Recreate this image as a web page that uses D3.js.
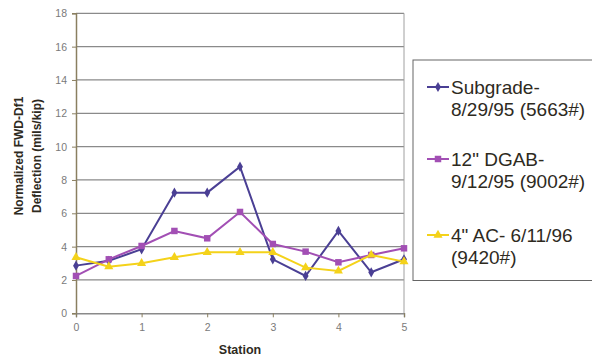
<!DOCTYPE html>
<html><head><meta charset="utf-8">
<script src="https://cdn.jsdelivr.net/npm/d3@7"></script>
<style>body{margin:0;background:#fff;}svg{display:block;font-family:Arial,"Liberation Sans",sans-serif;}</style>
</head><body><svg id="c" width="592" height="360"></svg>
<script>
const stations = [0,0.5,1,1.5,2,2.5,3,3.5,4,4.5,5];
const subgrade = [2.86,3.15,3.84,7.24,7.24,8.8,3.24,2.24,4.94,2.46,3.24];
const dgab = [2.24,3.24,4.04,4.94,4.5,6.08,4.16,3.7,3.06,3.5,3.9];
const ac = [3.36,2.8,3.0,3.36,3.66,3.66,3.66,2.74,2.54,3.5,3.1];
const seriesNames = [["Subgrade-","8/29/95 (5663#)"],["12\" DGAB-","9/12/95 (9002#)"],["4\" AC- 6/11/96","(9420#)"]];
const colors = ["#4a3f94","#a24fb4","#f4d21a"];
const yTicks = [0,2,4,6,8,10,12,14,16,18];
const xTicks = [0,1,2,3,4,5];

const svg = d3.select("#c");
const x = d3.scaleLinear().domain([0,5]).range([76,404]);
const y = d3.scaleLinear().domain([0,18]).range([313.3,13.3]);

svg.append("g").selectAll("line").data(yTicks.filter(d=>d>0)).join("line")
  .attr("x1",x(0)).attr("x2",x(5)).attr("y1",d=>y(d)).attr("y2",d=>y(d))
  .attr("stroke","#8a8a8a").attr("stroke-width",1.3);
svg.append("line").attr("x1",x(5)).attr("x2",x(5)).attr("y1",y(18)).attr("y2",y(0))
  .attr("stroke","#a0a0a0").attr("stroke-width",1);

const ya = svg.append("g").attr("transform",`translate(${x(0)},0)`)
  .call(d3.axisLeft(y).tickValues(yTicks).tickFormat(d3.format("d")).tickSize(4).tickPadding(5));
const xa = svg.append("g").attr("transform",`translate(0,${y(0)})`)
  .call(d3.axisBottom(x).tickValues(xTicks).tickFormat(d3.format("d")).tickSize(4).tickPadding(6));
[ya,xa].forEach(a=>{
  a.select(".domain").attr("stroke","#8a7f60").attr("stroke-width",1.5);
  a.selectAll(".tick line").attr("stroke","#8a7f60");
  a.selectAll("text").attr("fill","#7a7a7a").attr("font-size",10.5);
});
xa.select(".domain").attr("stroke","#8a8a8a");

const data = [subgrade,dgab,ac];
const line = d3.line().x((d,i)=>x(stations[i])).y(d=>y(d));
const shapes = [d3.symbolDiamond, d3.symbolSquare, d3.symbolTriangle];
const sizes = [30,42,36];
data.forEach((vals,k)=>{
  svg.append("path").datum(vals).attr("d",line).attr("fill","none")
    .attr("stroke",colors[k]).attr("stroke-width",2);
  svg.append("g").selectAll("path").data(vals).join("path")
    .attr("transform",(d,i)=>`translate(${x(stations[i])},${y(d)})`)
    .attr("d",d3.symbol().type(shapes[k]).size(sizes[k]))
    .attr("fill",colors[k]);
});

svg.append("text").attr("x",240).attr("y",354).attr("text-anchor","middle")
  .attr("font-weight","bold").attr("font-size",12.5).attr("fill","#2e2a1e").text("Station");
const yt = svg.append("text").attr("transform","translate(0,156) rotate(-90)")
  .attr("text-anchor","middle").attr("font-weight","bold").attr("font-size",12).attr("fill","#2e2a1e");
yt.append("tspan").attr("x",0).attr("y",23).text("Normalized FWD-Df1");
yt.append("tspan").attr("x",0).attr("y",41).text("Deflection (mils/kip)");

svg.append("rect").attr("x",413).attr("y",60).attr("width",190).attr("height",220.5)
  .attr("fill","#fff").attr("stroke","#666").attr("stroke-width",1);
const lg = svg.append("g");
const ly = [87,159,235];
seriesNames.forEach((nm,k)=>{
  lg.append("line").attr("x1",427).attr("x2",449).attr("y1",ly[k]).attr("y2",ly[k])
    .attr("stroke",colors[k]).attr("stroke-width",2);
  lg.append("path").attr("transform",`translate(438,${ly[k]})`)
    .attr("d",d3.symbol().type(shapes[k]).size(sizes[k])).attr("fill",colors[k]);
  nm.forEach((t,j)=>{
    lg.append("text").attr("x",451).attr("y",ly[k]+7+j*21.5).attr("font-size",19)
      .attr("fill","#2e2a1e").text(t);
  });
});
</script></body></html>
